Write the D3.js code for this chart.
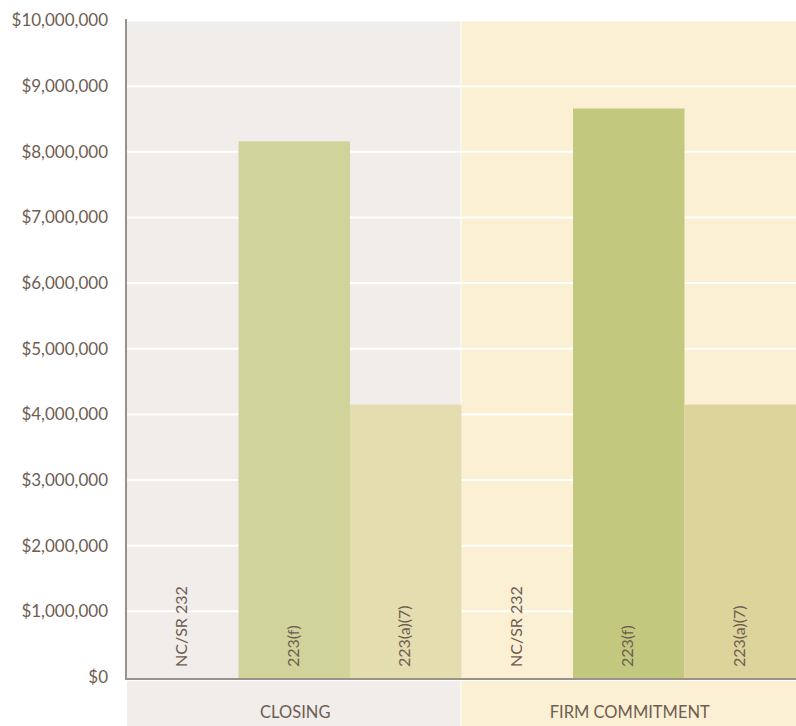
<!DOCTYPE html>
<html>
<head>
<meta charset="utf-8">
<script src="https://cdn.jsdelivr.net/npm/d3@7"></script>
<style>
  html, body { margin: 0; padding: 0; background: #ffffff; }
  svg { display: block; }
  text { font-family: Lato, "Open Sans", sans-serif; fill: #6e5d52; }
</style>
</head>
<body>
<svg id="chart" width="796" height="726"></svg>
<script>
// ---- Data ----
const groups = ["CLOSING", "FIRM COMMITMENT"];
const series = ["NC/SR 232", "223(f)", "223(a)(7)"];
const closingValues = [0, 8160000, 4150000];
const firmValues = [0, 8660000, 4150000];
const tickValues = [0, 1000000, 2000000, 3000000, 4000000, 5000000, 6000000, 7000000, 8000000, 9000000, 10000000];
const panelColors = ["#f1edea", "#fcf0d4"];
const closingColors = ["#d0d39a", "#d0d39a", "#e4ddb0"];
const firmColors = ["#c2c97e", "#c2c97e", "#dcd49a"];

const valuesByGroup = [closingValues, firmValues];
const colorsByGroup = [closingColors, firmColors];

// ---- Layout ----
const svg = d3.select("#chart");
const mLeft = 127, mRight = 796, mTop = 20.5, mBottom = 677;

const x0 = d3.scaleBand().domain(groups).range([mLeft, mRight]).padding(0);
const x1 = d3.scaleBand().domain(series).range([0, x0.bandwidth()]).padding(0);
const y = d3.scaleLinear().domain([0, 10000000]).range([mBottom, mTop]);

// Panel backgrounds
svg.append("g").selectAll("rect")
  .data(groups)
  .join("rect")
  .attr("x", d => x0(d))
  .attr("y", y(10000000) + 1)
  .attr("width", (d, i) => x0.bandwidth() - (i === 0 ? 1 : 0))
  .attr("height", mBottom - y(10000000))
  .attr("fill", (d, i) => panelColors[i]);

// Bottom category bands
svg.append("g").selectAll("rect")
  .data(groups)
  .join("rect")
  .attr("x", d => x0(d))
  .attr("y", 681)
  .attr("width", (d, i) => x0.bandwidth() - (i === 0 ? 1 : 0))
  .attr("height", 45)
  .attr("fill", (d, i) => panelColors[i]);

// Gridlines
svg.append("g").selectAll("line")
  .data(tickValues.filter(t => t > 0 && t < 10000000))
  .join("line")
  .attr("x1", mLeft)
  .attr("x2", mRight)
  .attr("y1", d => y(d))
  .attr("y2", d => y(d))
  .attr("stroke", "#ffffff")
  .attr("stroke-width", 2);

// Bars
groups.forEach((g, gi) => {
  const grp = svg.append("g").attr("transform", `translate(${x0(g)},0)`);
  grp.selectAll("rect")
    .data(series.map((s, si) => ({ s, v: valuesByGroup[gi][si], c: colorsByGroup[gi][si] })))
    .join("rect")
    .attr("x", d => x1(d.s))
    .attr("y", d => y(d.v))
    .attr("width", x1.bandwidth())
    .attr("height", d => d.v > 0 ? y(0) - y(d.v) + 1 : 0)
    .attr("fill", d => d.c);

  grp.selectAll("text")
    .data(series)
    .join("text")
    .attr("transform", d => `translate(${x1(d) + x1.bandwidth() / 2 - 1},667) rotate(-90)`)
    .attr("dy", "0.35em")
    .attr("text-anchor", "start")
    .style("font-size", "16px")
    .text(d => d);
});

// Y axis
const yAxis = d3.axisLeft(y)
  .tickValues(tickValues)
  .tickSize(0)
  .tickPadding(18)
  .tickFormat(d => "$" + d3.format(",")(d));
const ya = svg.append("g").attr("transform", `translate(${mLeft - 1},0)`).call(yAxis);
ya.select(".domain").remove();
ya.selectAll("text")
  .style("font-size", "17px")
  .style("fill", "#6e5d52")
  .style("font-family", "Lato, 'Open Sans', sans-serif");

// Axis lines
svg.append("line")
  .attr("x1", mLeft - 1).attr("x2", mLeft - 1)
  .attr("y1", 19).attr("y2", 680)
  .attr("stroke", "#9b918b").attr("stroke-width", 2);
svg.append("line")
  .attr("x1", mLeft - 2).attr("x2", mRight)
  .attr("y1", 679).attr("y2", 679)
  .attr("stroke", "#9b918b").attr("stroke-width", 2);

// Category labels
svg.append("g").selectAll("text")
  .data(groups)
  .join("text")
  .attr("x", d => x0(d) + x0.bandwidth() / 2 + 1)
  .attr("y", 718)
  .attr("text-anchor", "middle")
  .style("font-size", "16.5px")
  .text(d => d);
</script>
</body>
</html>
